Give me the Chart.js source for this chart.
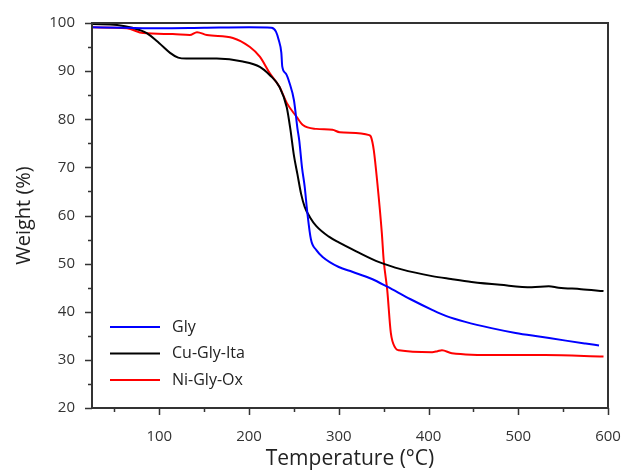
<!DOCTYPE html>
<html>
<head>
<meta charset="utf-8">
<script src="https://cdn.jsdelivr.net/npm/chart.js@4"></script>
<style>
    html, body { margin: 0; padding: 0; background: #fff; }
    #wrap { width: 623px; height: 470px; position: relative; }
</style>
</head>
<body>
<div id="wrap"><canvas id="tgaChart"></canvas></div>
<script>
// TGA curves (temperature in °C, weight in %)
const glyTemp = [25, 60, 100, 150, 200, 225, 230, 233, 236, 237, 241, 245, 250, 254, 256, 259, 262, 265, 269, 275, 282, 300, 315, 337, 354, 380, 404, 420, 441, 470, 497, 525, 553, 575, 590];
const glyWeight = [99.1, 99, 98.9, 99, 99.1, 99, 98.2, 96.5, 93.8, 91, 89.5, 87.6, 84, 78, 75.5, 70, 66, 60.5, 55, 52.8, 51.4, 49.3, 48.3, 46.8, 45.2, 42.6, 40.4, 39.1, 37.9, 36.6, 35.6, 34.8, 34, 33.4, 33];

const cuTemp = [25, 53, 70, 86, 100, 112, 121, 130, 164, 193, 212, 223, 234, 242, 246, 250, 254, 258, 262, 268, 275, 289, 300, 320, 345, 370, 404, 425, 448, 480, 515, 534, 545, 570, 595];
const cuWeight = [99.8, 99.6, 99, 97.9, 95.8, 93.8, 92.8, 92.6, 92.6, 92, 90.9, 89.2, 86.7, 82.5, 78, 72.5, 68.5, 64.5, 61.8, 59.6, 57.8, 55.6, 54.4, 52.5, 50.3, 48.8, 47.4, 46.8, 46.2, 45.6, 45.1, 45.3, 45, 44.7, 44.3];

const niTemp = [25, 64, 82, 115, 134, 142, 153, 182, 201, 212, 223, 234, 242, 253, 260, 275, 293, 301, 334, 336, 339, 343, 348, 350, 354, 358, 363, 367, 404, 410, 415, 426, 478, 530, 595];
const niWeight = [99.1, 98.9, 97.9, 97.7, 97.5, 98.1, 97.5, 96.9, 95, 93, 89.6, 86.7, 83.4, 80.5, 78.8, 78, 77.8, 77.3, 76.7, 76.3, 73.6, 66.7, 56.3, 50.8, 44.5, 35.6, 32.5, 32, 31.6, 31.8, 32, 31.4, 31, 31, 30.7];

const seriesNames = ['Gly', 'Cu-Gly-Ita', 'Ni-Gly-Ox'];
const seriesColors = ['#0000ff', '#000000', '#ff0000'];
const xTicks = [100, 200, 300, 400, 500, 600];
const yTicks = [20, 30, 40, 50, 60, 70, 80, 90, 100];

const FONT = '"Open Sans", "DejaVu Sans", sans-serif';
const AXIS = '#333333';

function toPoints(xs, ys) {
    return xs.map((x, i) => ({ x: x, y: ys[i] }));
}

// frame, outward ticks (major + minor) and the in-plot legend
const decorPlugin = {
    id: 'decor',
    afterDraw(chart) {
        const ctx = chart.ctx;
        const area = chart.chartArea;
        const xs = chart.scales.x;
        const ys = chart.scales.y;
        ctx.save();
        ctx.strokeStyle = AXIS;
        ctx.lineWidth = 2;
        ctx.strokeRect(area.left, area.top, area.right - area.left, area.bottom - area.top);

        ctx.lineWidth = 1.5;
        ctx.beginPath();
        for (let v = 50; v <= 600; v += 50) {
            const px = Math.round(xs.getPixelForValue(v)) + 0.5;
            const len = v % 100 === 0 ? 7 : 4;
            ctx.moveTo(px, area.bottom);
            ctx.lineTo(px, area.bottom + len);
        }
        for (let v = 20; v <= 100; v += 5) {
            const py = Math.round(ys.getPixelForValue(v)) + 0.5;
            const len = v % 10 === 0 ? 7 : 4;
            ctx.moveTo(area.left, py);
            ctx.lineTo(area.left - len, py);
        }
        ctx.stroke();

        // legend
        const lx = area.left + 18;
        const ly = area.top + 304;
        ctx.font = '16px ' + FONT;
        ctx.textBaseline = 'middle';
        seriesNames.forEach((name, i) => {
            const y = ly + i * 26.5;
            ctx.strokeStyle = seriesColors[i];
            ctx.lineWidth = 2;
            ctx.beginPath();
            ctx.moveTo(lx, y);
            ctx.lineTo(lx + 50, y);
            ctx.stroke();
            ctx.fillStyle = '#222';
            ctx.fillText(name, lx + 62, y);
        });
        ctx.restore();
    }
};

new Chart(document.getElementById('tgaChart'), {
    type: 'line',
    data: {
        datasets: [
            { label: seriesNames[0], data: toPoints(glyTemp, glyWeight), borderColor: seriesColors[0] },
            { label: seriesNames[1], data: toPoints(cuTemp, cuWeight), borderColor: seriesColors[1] },
            { label: seriesNames[2], data: toPoints(niTemp, niWeight), borderColor: seriesColors[2] }
        ]
    },
    options: {
        responsive: true,
        maintainAspectRatio: false,
        animation: false,
        layout: { padding: { left: 0, right: 15, top: 23, bottom: 0 } },
        elements: {
            line: { borderWidth: 2, cubicInterpolationMode: 'monotone' },
            point: { radius: 0 }
        },
        plugins: {
            legend: { display: false },
            tooltip: { enabled: false }
        },
        scales: {
            x: {
                type: 'linear',
                min: 25,
                max: 600,
                afterBuildTicks: s => { s.ticks = xTicks.map(v => ({ value: v })); },
                afterFit: s => { s.height = 62; s.paddingLeft = 0; s.paddingRight = 0; },
                grid: { display: false },
                border: { display: false },
                ticks: { color: AXIS, font: { family: FONT, size: 15 }, padding: 12, maxRotation: 0 },
                title: { display: true, text: 'Temperature (°C)', color: '#222', font: { family: FONT, size: 21 }, padding: { top: 0, bottom: -2 } }
            },
            y: {
                type: 'linear',
                min: 20,
                max: 100,
                afterBuildTicks: s => { s.ticks = yTicks.map(v => ({ value: v })); },
                afterFit: s => { s.width = 92; s.paddingTop = 0; s.paddingBottom = 0; },
                grid: { display: false },
                border: { display: false },
                ticks: { color: AXIS, font: { family: FONT, size: 15 }, padding: 9 },
                title: { display: true, text: 'Weight (%)', color: '#222', font: { family: FONT, size: 20 }, padding: { top: 12, bottom: 0 } }
            }
        }
    },
    plugins: [decorPlugin]
});
</script>
</body>
</html>
